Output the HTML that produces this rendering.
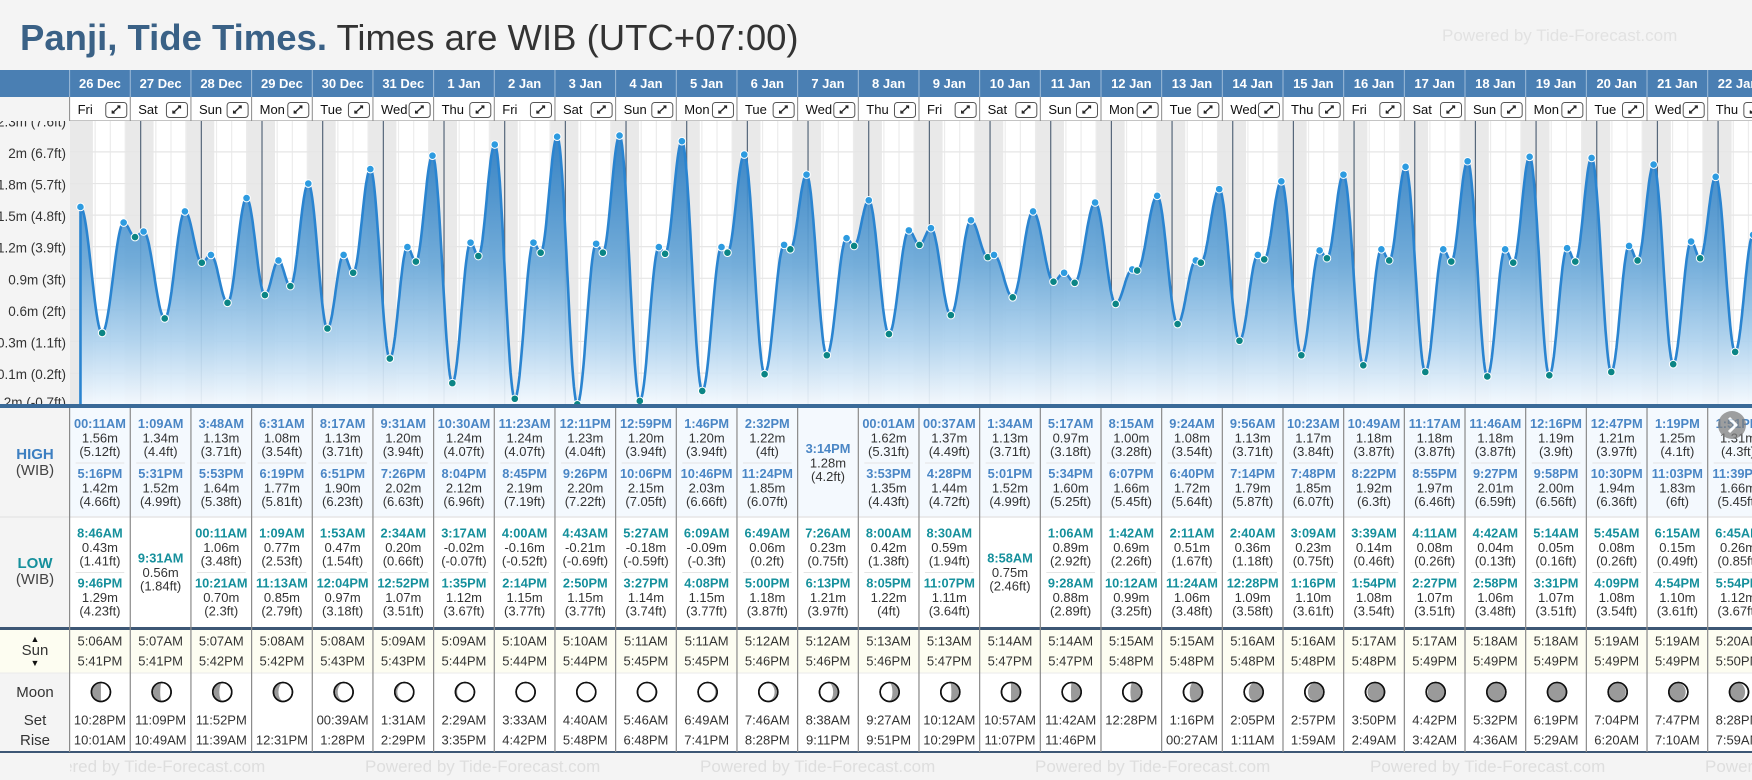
<!DOCTYPE html>
<html><head><meta charset="utf-8"><title>Panji, Tide Times</title>
<style>
html,body{margin:0;padding:0;background:#f4f4f4;width:1752px;height:780px;overflow:hidden;font-family:"Liberation Sans",Arial,sans-serif;}
svg{display:block}
</style></head>
<body>
<svg id="page" xmlns="http://www.w3.org/2000/svg" width="1752" height="780" viewBox="0 0 1752 780" font-family="Liberation Sans, Arial, sans-serif">
  <defs>
    <clipPath id="chartClip"><rect x="70" y="121" width="1682" height="284"/></clipPath>
    <clipPath id="labelClip"><rect x="0" y="121" width="70" height="287"/></clipPath>
    <clipPath id="footClip"><rect x="70" y="752" width="1682" height="28"/></clipPath>
    <linearGradient id="areaGrad" gradientUnits="userSpaceOnUse" x1="0" y1="150" x2="0" y2="405">
      <stop offset="0" stop-color="#2f7fc3"/>
      <stop offset="0.45" stop-color="#6aa8d8"/>
      <stop offset="0.75" stop-color="#aed2ee"/>
      <stop offset="1" stop-color="#f4f9fe"/>
    </linearGradient>
  </defs>
  <rect x="0" y="0" width="1752" height="780" fill="#f4f4f4"/>
  <text x="20" y="50" font-size="36.5" fill="#3a6186" font-weight="bold">Panji, Tide Times.<tspan font-weight="normal" fill="#333"> Times are WIB (UTC+07:00)</tspan></text>
  <text x="1442" y="41" font-size="17" fill="#e2e2e2">Powered by Tide-Forecast.com</text>
  <g id="header"></g>
  <g id="chart"></g>
  <g id="table"></g>
</svg>
<script>
const NS='http://www.w3.org/2000/svg';
const days=['26 Dec','27 Dec','28 Dec','29 Dec','30 Dec','31 Dec','1 Jan','2 Jan','3 Jan','4 Jan','5 Jan','6 Jan','7 Jan','8 Jan','9 Jan','10 Jan','11 Jan','12 Jan','13 Jan','14 Jan','15 Jan','16 Jan','17 Jan','18 Jan','19 Jan','20 Jan','21 Jan','22 Jan'];
const weekdays=['Fri','Sat','Sun','Mon','Tue','Wed','Thu'];
const highTimes=[["00:11AM","5:16PM"],["1:09AM","5:31PM"],["3:48AM","5:53PM"],["6:31AM","6:19PM"],["8:17AM","6:51PM"],["9:31AM","7:26PM"],["10:30AM","8:04PM"],["11:23AM","8:45PM"],["12:11PM","9:26PM"],["12:59PM","10:06PM"],["1:46PM","10:46PM"],["2:32PM","11:24PM"],["3:14PM"],["00:01AM","3:53PM"],["00:37AM","4:28PM"],["1:34AM","5:01PM"],["5:17AM","5:34PM"],["8:15AM","6:07PM"],["9:24AM","6:40PM"],["9:56AM","7:14PM"],["10:23AM","7:48PM"],["10:49AM","8:22PM"],["11:17AM","8:55PM"],["11:46AM","9:27PM"],["12:16PM","9:58PM"],["12:47PM","10:30PM"],["1:19PM","11:03PM"],["1:51PM","11:39PM"]];
const highHeights=[[1.56,1.42],[1.34,1.52],[1.13,1.64],[1.08,1.77],[1.13,1.90],[1.20,2.02],[1.24,2.12],[1.24,2.19],[1.23,2.20],[1.20,2.15],[1.20,2.03],[1.22,1.85],[1.28],[1.62,1.35],[1.37,1.44],[1.13,1.52],[0.97,1.60],[1.00,1.66],[1.08,1.72],[1.13,1.79],[1.17,1.85],[1.18,1.92],[1.18,1.97],[1.18,2.01],[1.19,2.00],[1.21,1.94],[1.25,1.83],[1.31,1.66]];
const lowTimes=[["8:46AM","9:46PM"],["9:31AM"],["00:11AM","10:21AM"],["1:09AM","11:13AM"],["1:53AM","12:04PM"],["2:34AM","12:52PM"],["3:17AM","1:35PM"],["4:00AM","2:14PM"],["4:43AM","2:50PM"],["5:27AM","3:27PM"],["6:09AM","4:08PM"],["6:49AM","5:00PM"],["7:26AM","6:13PM"],["8:00AM","8:05PM"],["8:30AM","11:07PM"],["8:58AM"],["1:06AM","9:28AM"],["1:42AM","10:12AM"],["2:11AM","11:24AM"],["2:40AM","12:28PM"],["3:09AM","1:16PM"],["3:39AM","1:54PM"],["4:11AM","2:27PM"],["4:42AM","2:58PM"],["5:14AM","3:31PM"],["5:45AM","4:09PM"],["6:15AM","4:54PM"],["6:45AM","5:54PM"]];
const lowHeights=[[0.43,1.29],[0.56],[1.06,0.70],[0.77,0.85],[0.47,0.97],[0.20,1.07],[-0.02,1.12],[-0.16,1.15],[-0.21,1.15],[-0.18,1.14],[-0.09,1.15],[0.06,1.18],[0.23,1.21],[0.42,1.22],[0.59,1.11],[0.75],[0.89,0.88],[0.69,0.99],[0.51,1.06],[0.36,1.09],[0.23,1.10],[0.14,1.08],[0.08,1.07],[0.04,1.06],[0.05,1.07],[0.08,1.08],[0.15,1.10],[0.26,1.12]];
const sunrise=['5:06AM','5:07AM','5:07AM','5:08AM','5:08AM','5:09AM','5:09AM','5:10AM','5:10AM','5:11AM','5:11AM','5:12AM','5:12AM','5:13AM','5:13AM','5:14AM','5:14AM','5:15AM','5:15AM','5:16AM','5:16AM','5:17AM','5:17AM','5:18AM','5:18AM','5:19AM','5:19AM','5:20AM'];
const sunset=['5:41PM','5:41PM','5:42PM','5:42PM','5:43PM','5:43PM','5:44PM','5:44PM','5:44PM','5:45PM','5:45PM','5:46PM','5:46PM','5:46PM','5:47PM','5:47PM','5:47PM','5:48PM','5:48PM','5:48PM','5:48PM','5:48PM','5:49PM','5:49PM','5:49PM','5:49PM','5:49PM','5:50PM'];
const moonSet=['10:28PM','11:09PM','11:52PM','','00:39AM','1:31AM','2:29AM','3:33AM','4:40AM','5:46AM','6:49AM','7:46AM','8:38AM','9:27AM','10:12AM','10:57AM','11:42AM','12:28PM','1:16PM','2:05PM','2:57PM','3:50PM','4:42PM','5:32PM','6:19PM','7:04PM','7:47PM','8:28PM'];
const moonRise=['10:01AM','10:49AM','11:39AM','12:31PM','1:28PM','2:29PM','3:35PM','4:42PM','5:48PM','6:48PM','7:41PM','8:28PM','9:11PM','9:51PM','10:29PM','11:07PM','11:46PM','','00:27AM','1:11AM','1:59AM','2:49AM','3:42AM','4:36AM','5:29AM','6:20AM','7:10AM','7:59AM'];
const moonLit=[0.5,0.58,0.67,0.76,0.84,0.9,0.95,0.99,1.0,0.98,0.94,0.86,0.74,0.66,0.56,0.5,0.46,0.39,0.31,0.22,0.13,0.07,0.03,0.0,0.0,0.03,0.08,0.15];
const moonWaxing=[1,1,1,1,1,1,1,1,1,0,0,0,0,0,0,0,0,0,0,0,0,0,0,0,1,1,1,1];
const tickMeters=[-0.213,0.07,0.354,0.637,0.92,1.204,1.487,1.77,2.054,2.337];
const tickLabels=['-0.2m (-0.7ft)','0.1m (0.2ft)','0.3m (1.1ft)','0.6m (2ft)','0.9m (3ft)','1.2m (3.9ft)','1.5m (4.8ft)','1.8m (5.7ft)','2m (6.7ft)','2.3m (7.6ft)'];

const COLX=69.6, COLW=60.67, T0X=80, PXH=COLW/24;
const xT=h=>T0X+h*PXH;
const yM=v=>380.9-v*111.5;
function parseT(s){const m=s.match(/(\d+):(\d+)(AM|PM)/);let h=(+m[1])%12;if(m[3]==='PM')h+=12;return h+(+m[2])/60;}
function ftStr(m){let f=(m*3.28084).toFixed(2);f=f.replace(/\.?0+$/,'');if(f==='-0')f='0';return '('+f+'ft)';}
function mk(parent,tag,attrs,name,inter){const el=document.createElementNS(NS,tag);for(const k in attrs)el.setAttribute(k,attrs[k]);


parent.appendChild(el);return el;}
function txt(parent,x,y,s,attrs,name){const a=Object.assign({x:x,y:y,'text-anchor':'middle','font-size':13,fill:'#333'},attrs||{});const el=mk(parent,'text',a,name,false);el.textContent=s;return el;}

// ---------- header ----------
const hdr=document.getElementById('header');
mk(hdr,'rect',{x:0,y:70,width:1752,height:27,fill:'#4a7fb3'},'date-header-bar',false);
mk(hdr,'rect',{x:70,y:97,width:1682,height:24,fill:'#ffffff'},'day-header-bar',false);
mk(hdr,'line',{x1:70,y1:121,x2:1752,y2:121,stroke:'#8a8a8a','stroke-width':1},'day-header-bottom',false);
for(let i=0;i<days.length;i++){
  const cx=COLX+i*COLW;
  mk(hdr,'line',{x1:cx,y1:70,x2:cx,y2:97,stroke:'#9dbbd8','stroke-width':1},'date-col-divider',false);
  mk(hdr,'line',{x1:cx,y1:97,x2:cx,y2:121,stroke:'#8a8a8a','stroke-width':1},'day-col-divider',false);
  txt(hdr,cx+COLW/2,88,days[i],{fill:'#fff','font-weight':'bold','font-size':13},'date-label');
  txt(hdr,cx+8,114,weekdays[i%7],{'text-anchor':'start','font-size':13,fill:'#111'},'weekday-label');
  const b=mk(hdr,'g',{transform:'translate('+(cx+COLW-25)+',102)'},'expand-day-button',true);
  mk(b,'rect',{x:0.5,y:0.5,width:21,height:15,rx:3,fill:'#fff',stroke:'#555','stroke-width':1},'expand-button-box',true);
  mk(b,'path',{d:'M7 11 L14.5 4 M12 4 L14.5 4 L14.5 6.5 M7 8.5 L7 11 L9.5 11',fill:'none',stroke:'#222','stroke-width':1.3},'expand-icon',true);
}

// ---------- chart ----------
const ch=document.getElementById('chart');
const lab=mk(ch,'g',{'clip-path':'url(#labelClip)'},'y-axis',false);
for(let i=0;i<tickMeters.length;i++){
  let y=yM(tickMeters[i])+2; if(y>403)y=403;
  txt(lab,66,y+4,tickLabels[i],{'text-anchor':'end','font-size':13.5,fill:'#333'},'y-tick-label');
}
const cg=mk(ch,'g',{'clip-path':'url(#chartClip)'},'tide-chart',false);
mk(cg,'rect',{x:70,y:121,width:1682,height:284,fill:'#ffffff'},'chart-background',false);
for(let d=-1;d<days.length;d++){
  const s=d*24+parseT(sunset[Math.max(d,0)]);
  const e=(d+1)*24+parseT(sunrise[Math.min(d+1,days.length-1)]);
  mk(cg,'rect',{x:xT(s),y:121,width:xT(e)-xT(s),height:284,fill:'#e9e9e9'},'night-band',false);
}
for(let d=-1;d<days.length;d++){for(const h of [6,12,18]){
  mk(cg,'line',{x1:xT(d*24+h),y1:121,x2:xT(d*24+h),y2:405,stroke:'#ececec','stroke-width':1.2},'hour-gridline',false);
}}
for(let i=0;i<tickMeters.length;i++){
  mk(cg,'line',{x1:70,y1:yM(tickMeters[i]),x2:1752,y2:yM(tickMeters[i]),stroke:'#e6e6e6','stroke-width':1.2},'y-gridline',false);
}
for(let d=1;d<days.length;d++){
  mk(cg,'line',{x1:xT(d*24),y1:121,x2:xT(d*24),y2:405,stroke:'#56677a','stroke-width':1.2},'midnight-line',false);
}
const ext=[];
for(let d=0;d<days.length;d++){
  highTimes[d].forEach((t,j)=>ext.push({t:d*24+parseT(t),h:highHeights[d][j],hi:true}));
  lowTimes[d].forEach((t,j)=>ext.push({t:d*24+parseT(t),h:lowHeights[d][j],hi:false}));
}
ext.sort((a,b)=>a.t-b.t);
let pts=[[xT(ext[0].t),yM(ext[0].h)]];
for(let i=0;i<ext.length-1;i++){const a=ext[i],b=ext[i+1];const N=24;
  for(let k=1;k<=N;k++){const f=k/N;pts.push([xT(a.t+(b.t-a.t)*f),yM(a.h+(b.h-a.h)*(1-Math.cos(Math.PI*f))/2)]);}}
const line=pts.map((p,i)=>(i?'L':'M')+p[0].toFixed(1)+' '+p[1].toFixed(1)).join(' ');
const x0=pts[0][0], xl=pts[pts.length-1][0];
mk(cg,'path',{d:'M'+x0+' 405 L'+line.slice(1)+' L'+xl+' 405 Z',fill:'url(#areaGrad)','fill-opacity':0.92},'tide-area',false);
mk(cg,'path',{d:'M'+x0+' 405 L'+line.slice(1),fill:'none',stroke:'#2a84d0','stroke-width':2.6,'stroke-linejoin':'round'},'tide-line',false);
ext.forEach(e=>{
  mk(cg,'circle',{cx:xT(e.t),cy:yM(e.h),r:3.8,fill:e.hi?'#2d9be0':'#0b8585',stroke:'#fff','stroke-width':1},e.hi?'high-tide-point':'low-tide-point',true);
});
mk(ch,'rect',{x:0,y:404,width:1752,height:4,fill:'#3a6a98'},'chart-bottom-axis',false);

// ---------- table ----------
const tb=document.getElementById('table');
mk(tb,'rect',{x:0,y:408,width:70,height:344,fill:'#f4f4f4'},'table-label-column',false);
mk(tb,'rect',{x:70,y:408,width:1682,height:109,fill:'#f4f9fe'},'high-section-bg',false);
mk(tb,'rect',{x:70,y:517,width:1682,height:110,fill:'#ffffff'},'low-section-bg',false);
mk(tb,'rect',{x:0,y:630,width:1752,height:43,fill:'#fdfdf1'},'sun-row-bg',false);
mk(tb,'rect',{x:70,y:673,width:1682,height:79,fill:'#ffffff'},'moon-row-bg',false);
mk(tb,'line',{x1:0,y1:517,x2:1752,y2:517,stroke:'#e6e6e6','stroke-width':1.5},'high-low-divider',false);
mk(tb,'line',{x1:0,y1:673,x2:1752,y2:673,stroke:'#eaeaea','stroke-width':1},'sun-moon-divider',false);
mk(tb,'rect',{x:0,y:627,width:1752,height:3,fill:'#3d5775'},'tide-sun-divider',false);
mk(tb,'rect',{x:0,y:751,width:1752,height:2,fill:'#3d5775'},'table-bottom-border',false);
txt(tb,35,459,'HIGH',{'font-weight':'bold','font-size':15,fill:'#3d7fc1'},'high-label');
txt(tb,35,475,'(WIB)',{'font-size':15,fill:'#444'},'high-tz-label');
txt(tb,35,568,'LOW',{'font-weight':'bold','font-size':15,fill:'#16909c'},'low-label');
txt(tb,35,584,'(WIB)',{'font-size':15,fill:'#444'},'low-tz-label');
txt(tb,35,642,'▲',{'font-size':9,fill:'#111'},'sunrise-arrow');
txt(tb,35,655,'Sun',{'font-size':15,fill:'#333'},'sun-label');
txt(tb,35,666,'▼',{'font-size':9,fill:'#111'},'sunset-arrow');
txt(tb,35,697,'Moon',{'font-size':15,fill:'#333'},'moon-label');
txt(tb,35,725,'Set',{'font-size':15,fill:'#333'},'moonset-label');
txt(tb,35,745,'Rise',{'font-size':15,fill:'#333'},'moonrise-label');

function moonPath(cx,cy,r,k,wax){
  const rx=Math.abs(1-2*k)*r;
  if(wax){const sw=k<0.5?0:1;return `M${cx} ${cy-r} A${r} ${r} 0 0 0 ${cx} ${cy+r} A${rx} ${r} 0 0 ${sw} ${cx} ${cy-r} Z`;}
  const sw=k<0.5?1:0;return `M${cx} ${cy-r} A${r} ${r} 0 0 1 ${cx} ${cy+r} A${rx} ${r} 0 0 ${sw} ${cx} ${cy-r} Z`;
}
function cell(g,cx,base,time,m,isHigh){
  txt(g,cx,base,time,{'font-weight':'bold','font-size':12.8,fill:isHigh?'#4a86c5':'#16909c'},isHigh?'high-tide-time':'low-tide-time');
  txt(g,cx,base+14.4,m.toFixed(2)+'m',{'font-size':13},'tide-height-m');
  txt(g,cx,base+28,ftStr(m),{'font-size':13},'tide-height-ft');
}
for(let d=0;d<days.length;d++){
  const x=COLX+d*COLW, cx=x+COLW/2;
  const g=mk(tb,'g',{},'day-column-'+days[d].replace(' ','-').toLowerCase(),false);
  mk(g,'line',{x1:x,y1:408,x2:x,y2:752,stroke:'#8a8a8a','stroke-width':1.2},'column-divider',false);
  const ht=highTimes[d];
  if(ht.length===2){
    cell(g,cx,428,ht[0],highHeights[d][0],true);
    mk(g,'line',{x1:x+6,y1:463,x2:x+COLW-6,y2:463,stroke:'#e4e4e4','stroke-width':1},'cell-separator',false);
    cell(g,cx,478,ht[1],highHeights[d][1],true);
  } else cell(g,cx,453,ht[0],highHeights[d][0],true);
  const lt=lowTimes[d];
  if(lt.length===2){
    cell(g,cx,537.5,lt[0],lowHeights[d][0],false);
    mk(g,'line',{x1:x+6,y1:572.5,x2:x+COLW-6,y2:572.5,stroke:'#e4e4e4','stroke-width':1},'cell-separator',false);
    cell(g,cx,587.5,lt[1],lowHeights[d][1],false);
  } else cell(g,cx,562.5,lt[0],lowHeights[d][0],false);
  txt(g,cx,645.5,sunrise[d],{'font-size':13},'sunrise-time');
  txt(g,cx,665.5,sunset[d],{'font-size':13},'sunset-time');
  const r=9.5;
  mk(g,'circle',{cx:cx+1,cy:692,r:r,fill:'#fff',stroke:'#111','stroke-width':1.6},'moon-phase-icon',false);
  if(moonLit[d]<0.995)mk(g,'path',{d:moonPath(cx+1,692,r-0.8,moonLit[d],moonWaxing[d]),fill:'#9a9a9a'},'moon-shadow',false);
  mk(g,'circle',{cx:cx+1,cy:692,r:r,fill:'none',stroke:'#111','stroke-width':1.6},'moon-outline',false);
  if(moonSet[d])txt(g,cx,724.5,moonSet[d],{'font-size':13},'moonset-time');
  if(moonRise[d])txt(g,cx,744.5,moonRise[d],{'font-size':13},'moonrise-time');
}
const sa=mk(tb,'g',{opacity:0.75},'scroll-right-button',true);
mk(sa,'circle',{cx:1732,cy:425,r:14,fill:'#808080'},'scroll-button-circle',true);
mk(sa,'path',{d:'M1729 418 L1736 425 L1729 432',fill:'none',stroke:'#fff','stroke-width':3},'scroll-chevron',true);
const ft=mk(tb,'g',{'clip-path':'url(#footClip)'},'footer-watermarks',false);
for(let i=-1;i<5;i++){
  txt(ft,30+i*335+335,772,'Powered by Tide-Forecast.com',{'text-anchor':'start','font-size':17,fill:'#dedede'},'footer-watermark');
}
</script>
</body></html>
